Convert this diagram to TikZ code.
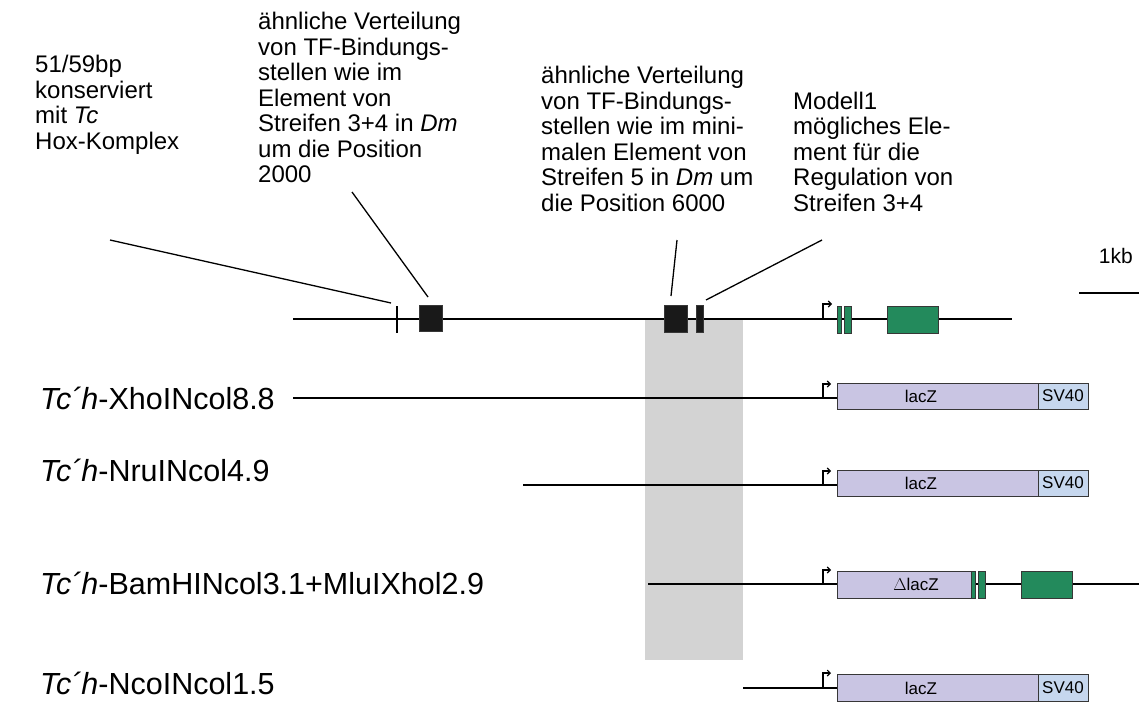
\documentclass[tikz,border=0pt]{standalone}
\usepackage{fontspec}
\setmainfont{Liberation Sans}
\usetikzlibrary{arrows.meta}
\definecolor{gr}{RGB}{35,138,92}
\definecolor{lz}{RGB}{201,197,227}
\definecolor{sv}{RGB}{198,215,238}
\definecolor{sh}{RGB}{211,211,211}
\definecolor{ol}{RGB}{55,55,55}
\begin{document}
\begin{tikzpicture}[x=1pt,y=-1pt,
  toptext/.style={anchor=north west, align=left, inner sep=0pt, font=\fontsize{24}{25.5}\selectfont},
  lbl/.style={anchor=base west, inner sep=0pt, font=\fontsize{30.5}{34}\selectfont},
  dna/.style={draw=black, line width=1.3pt},
  leader/.style={draw=black, line width=1.3pt},
  blk/.style={draw=ol, fill=black!90, line width=0.8pt},
  grn/.style={draw=ol, fill=gr, line width=1pt},
  lac/.style={draw=ol, fill=lz, line width=1pt},
  svb/.style={draw=ol, fill=sv, line width=1pt},
  prom/.style={draw=black, line width=1.1pt, -{Straight Barb[length=3pt,width=6pt]}},
  boxtxt/.style={font=\fontsize{17}{20}\selectfont, inner sep=0pt, anchor=center}]
\useasboundingbox (0,0) rectangle (1139,702);

% shaded region
\fill[sh] (645,319) rectangle (743,660);

% ---------- genomic map ----------
\coordinate (m0) at (293,319);
\coordinate (m1) at (1012,319);
\draw[dna] (m0) -- (m1);
\draw[line width=1.3pt] (397,306) coordinate (tickT) -- (397,333);
\path[blk] (419,305) rectangle (442,331);
\path[blk] (664,305) rectangle (687,332);
\path[blk] (696,305) rectangle (703,332);
\draw[prom] (823,319) -- (823,304) -- (832,304);
\path[grn] (837,306) rectangle (841,333);
\path[grn] (844,306) rectangle (851,333);
\path[grn] (887,306) rectangle (938,333);

% scale bar
\node[anchor=base east, inner sep=0pt, font=\fontsize{21}{24}\selectfont] (kb) at (1133,263) {1kb};
\coordinate (sb0) at (1079,293);
\coordinate (sb1) at (1139,293);
\draw[line width=1.3pt] (sb0) -- (sb1);

% ---------- annotation texts ----------
\node[toptext] (t1) at (35,55) {51/59bp\\konserviert\\mit \textit{Tc}\\Hox-Komplex};
\node[toptext] (t2) at (258,12) {ähnliche Verteilung\\von TF-Bindungs-\\stellen wie im\\Element von\\Streifen 3+4 in \textit{Dm}\\um die Position\\2000};
\node[toptext] (t3) at (541,66) {ähnliche Verteilung\\von TF-Bindungs-\\stellen wie im mini-\\malen Element von\\Streifen 5 in \textit{Dm} um\\die Position 6000};
\node[toptext] (t4) at (793,91.5) {Modell1\\mögliches Ele-\\ment für die\\Regulation von\\Streifen 3+4};

\coordinate (l1a) at (110,240);
\coordinate (l1b) at (391,303);
\coordinate (l2a) at (352,192);
\coordinate (l2b) at (428,297);
\coordinate (l3a) at (677,240);
\coordinate (l3b) at (671,296);
\coordinate (l4a) at (822,240);
\coordinate (l4b) at (706,300);
\draw[leader] (l1a) -- (l1b);
\draw[leader] (l2a) -- (l2b);
\draw[leader] (l3a) -- (l3b);
\draw[leader] (l4a) -- (l4b);

% ---------- construct 1 ----------
\node[lbl] (c1) at (40,409) {\textit{Tc´h}-XhoINcol8.8};
\draw[dna] (293,398) -- (837,398);
\draw[prom] (823,398) -- (823,384) -- (831,384);
\path[lac] (837,383) rectangle (1038,409);
\path[svb] (1038,383) rectangle (1088,409);
\node[boxtxt] (z1) at (921,396) {lacZ};
\node[boxtxt] (s1) at (1063,396) {SV40};

% ---------- construct 2 ----------
\node[lbl] (c2) at (40,481) {\textit{Tc´h}-NruINcol4.9};
\draw[dna] (523,485) -- (837,485);
\draw[prom] (823,485) -- (823,471) -- (831,471);
\path[lac] (837,470) rectangle (1038,496);
\path[svb] (1038,470) rectangle (1088,496);
\node[boxtxt] (z2) at (921,483) {lacZ};
\node[boxtxt] (s2) at (1063,483) {SV40};

% ---------- construct 3 ----------
\node[lbl] (c3) at (40,594) {\textit{Tc´h}-BamHINcol3.1+MluIXhol2.9};
\draw[dna] (648,584) -- (1139,584);
\draw[prom] (823,584) -- (823,570) -- (831,570);
\path[lac] (837,571) rectangle (971,598);
\path[grn] (971,571) rectangle (975,598);
\path[grn] (978,571) rectangle (985,598);
\path[grn] (1021,571) rectangle (1072,598);
\node[boxtxt] (z3) at (916,584) {$\Delta$lacZ};

% ---------- construct 4 ----------
\node[lbl] (c4) at (40,694) {\textit{Tc´h}-NcoINcol1.5};
\draw[dna] (743,688) -- (837,688);
\draw[prom] (823,688) -- (823,673) -- (831,673);
\path[lac] (837,674) rectangle (1038,701);
\path[svb] (1038,674) rectangle (1088,701);
\node[boxtxt] (z4) at (921,688) {lacZ};
\node[boxtxt] (s4) at (1063,688) {SV40};
\end{tikzpicture}
\end{document}
